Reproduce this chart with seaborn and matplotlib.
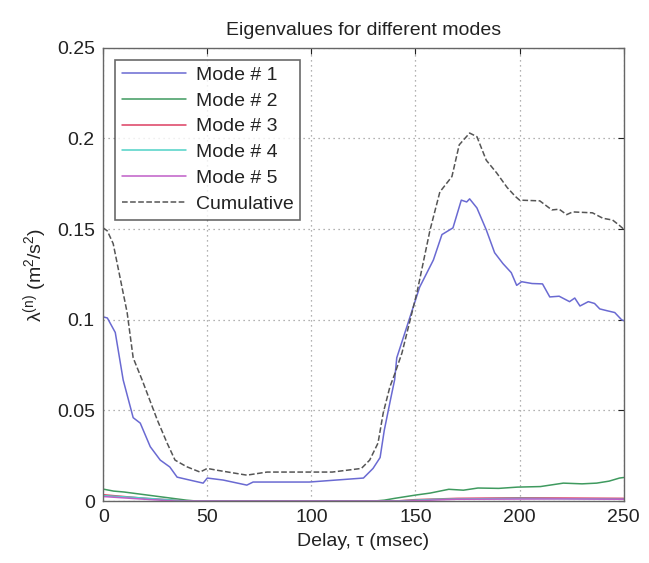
import matplotlib
matplotlib.use("Agg")
import matplotlib.pyplot as plt
import seaborn as sns
import numpy as np

# ---- data ----
mode1_x = [0, 2, 5.8, 9.6, 14.4, 17.8, 22.6, 27.4, 32, 35.5, 40, 48, 50, 57.6, 69, 72, 90, 99,
           125, 129.6, 133, 135, 138, 140, 141, 145.8, 152, 158.6, 162.7, 168, 172, 174.6, 176,
           179.5, 184, 188, 192, 196, 198.6, 201, 206, 211, 214.5, 219, 224, 226.5, 229, 233,
           236, 238.5, 242, 245.7, 249, 250]
mode1_y = [0.1016, 0.1010, 0.093, 0.0668, 0.046, 0.043, 0.030, 0.0226, 0.0188, 0.0132, 0.012,
           0.0099, 0.0127, 0.0116, 0.0088, 0.0105, 0.0105, 0.0105, 0.0127, 0.018, 0.024, 0.039,
           0.056, 0.067, 0.079, 0.096, 0.118, 0.133, 0.147, 0.1507, 0.166, 0.165, 0.1667, 0.1617,
           0.1496, 0.137, 0.131, 0.126, 0.119, 0.121, 0.120, 0.1198, 0.1126, 0.113, 0.110, 0.112,
           0.1076, 0.110, 0.109, 0.106, 0.105, 0.104, 0.100, 0.0995]

cum_x = [0, 2, 4.8, 11.5, 14.4, 18.7, 26, 30.7, 34.5, 40, 46.5, 50, 54.7, 69, 78.7, 83.5, 90,
         110, 124, 128, 132, 134.5, 137.7, 140, 143.5, 150.7, 157, 161.7, 167.5, 171, 176,
         179.5, 184, 189, 194, 198, 200, 209.7, 215.5, 219, 222.6, 225.5, 235, 240, 244.7,
         248, 250]
cum_y = [0.1507, 0.149, 0.142, 0.104, 0.079, 0.0668, 0.0447, 0.032, 0.0226, 0.019, 0.016, 0.018,
         0.017, 0.0143, 0.016, 0.016, 0.016, 0.016, 0.018, 0.0226, 0.032, 0.0486, 0.063, 0.070,
         0.0817, 0.115, 0.1496, 0.1705, 0.179, 0.1965, 0.203, 0.201, 0.188, 0.181, 0.173, 0.168,
         0.166, 0.1656, 0.1606, 0.161, 0.158, 0.1595, 0.159, 0.156, 0.155, 0.152, 0.150]

mode2_x = [0, 5, 10, 20, 30, 40, 45, 130, 135, 140, 150, 157, 166, 173, 180, 190, 199, 210,
           221, 230, 237, 243, 248, 250]
mode2_y = [0.0066, 0.0055, 0.005, 0.0035, 0.002, 0.0005, 0.0, 0.0, 0.0005, 0.0015, 0.0033,
           0.0044, 0.0065, 0.006, 0.0072, 0.007, 0.0077, 0.008, 0.0099, 0.0095, 0.0099, 0.011,
           0.0127, 0.013]

mode3_x = [0, 10, 20, 30, 40, 140, 150, 170, 200, 250]
mode3_y = [0.0035, 0.0025, 0.0015, 0.0008, 0.0, 0.0, 0.0008, 0.0015, 0.0018, 0.0015]

mode4_x = [0, 15, 30, 40, 140, 160, 200, 250]
mode4_y = [0.003, 0.002, 0.0008, 0.0, 0.0, 0.001, 0.0015, 0.001]

mode5_x = [0, 20, 35, 145, 170, 220, 250]
mode5_y = [0.0025, 0.001, 0.0, 0.0, 0.001, 0.0012, 0.001]

labels = ["Mode # 1", "Mode # 2", "Mode # 3", "Mode # 4", "Mode # 5", "Cumulative"]
x_ticks = [0, 50, 100, 150, 200, 250]
y_ticks = [0, 0.05, 0.1, 0.15, 0.2, 0.25]
y_ticklabels = ["0", "0.05", "0.1", "0.15", "0.2", "0.25"]

# ---- plotting ----
sns.set_style("white")
plt.rcParams["font.family"] = ["Liberation Sans", "DejaVu Sans"]
plt.rcParams["mathtext.fontset"] = "custom"
plt.rcParams["mathtext.rm"] = "Liberation Sans"
plt.rcParams["mathtext.it"] = "Liberation Sans"

fig = plt.figure(figsize=(6.49, 5.63), dpi=100)
ax = fig.add_axes([0.159, 0.110, 0.802, 0.805])

series = [
    (mode1_x, mode1_y, "#6a6ad2", "-"),
    (mode2_x, mode2_y, "#3f9a5f", "-"),
    (mode3_x, mode3_y, "#dc3f62", "-"),
    (mode4_x, mode4_y, "#4fd2c6", "-"),
    (mode5_x, mode5_y, "#c05ec8", "-"),
    (cum_x, cum_y, "#555555", "--"),
]
for (xs, ys, col, ls), lab in zip(series, labels):
    sns.lineplot(x=xs, y=ys, ax=ax, color=col, linestyle=ls, linewidth=1.1,
                 label=lab, sort=False, estimator=None)

ax.set_xlim(0, 250)
ax.set_ylim(0, 0.25)
ax.set_xticks(x_ticks)
ax.set_xticklabels([str(t) for t in x_ticks])
ax.set_yticks(y_ticks)
ax.set_yticklabels(y_ticklabels)
ax.tick_params(direction="in", length=4, labelsize=14, colors="#222222",
               top=True, right=True, pad=6)
ax.grid(True, linestyle=(0, (1, 3)), color="#999999", linewidth=0.9)
for sp in ax.spines.values():
    sp.set_color("#666666")
    sp.set_linewidth(1.0)
    sp.set_visible(True)

ax.set_title("Eigenvalues for different modes", fontsize=14, color="#222222", pad=9)
ax.set_xlabel("Delay, \u03c4 (msec)", fontsize=14, color="#222222", labelpad=5)
ax.set_ylabel("\u03bb$^{\\mathrm{(n)}}$ (m$^{2}$/s$^{2}$)", fontsize=14, color="#222222",
              labelpad=6)

leg = ax.legend(loc="upper left", fontsize=14, frameon=True, fancybox=False,
                edgecolor="#444444", handlelength=3.3, borderpad=0.35,
                labelspacing=0.42, handletextpad=0.5, borderaxespad=0.6)
leg.get_frame().set_linewidth(1.2)
for t in leg.get_texts():
    t.set_color("#222222")

fig.savefig("out.png", dpi=100)
